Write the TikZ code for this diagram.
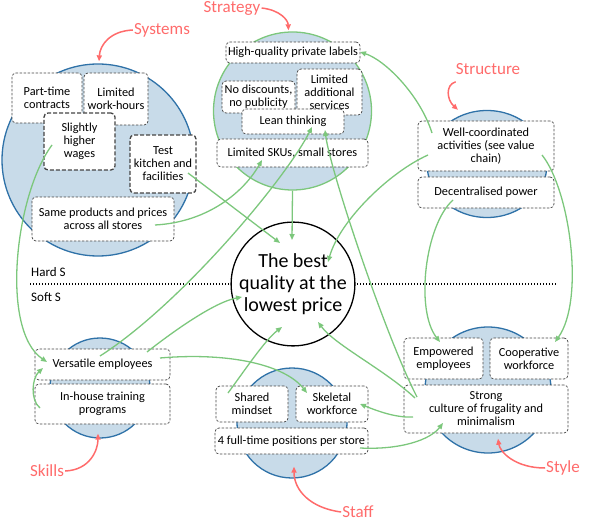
\documentclass[tikz,border=0pt]{standalone}
\usepackage{fontspec}
\setmainfont{Carlito}
\usetikzlibrary{arrows.meta,shapes.geometric}
\definecolor{cfill}{HTML}{C8DBE9}
\definecolor{cblue}{HTML}{2F72A8}
\definecolor{cgreen}{HTML}{7CC77C}
\definecolor{cred}{HTML}{FF6B6B}
\definecolor{cdash}{HTML}{444444}
\begin{document}
\begin{tikzpicture}[x=1pt,y=-1pt,
 box/.style={draw=cdash, fill=white, rounded corners=4pt, align=center, inner sep=1pt,
   font=\fontsize{12.3}{13}\selectfont, line width=0.7pt, dash pattern=on 2.5pt off 1.5pt},
 boldbox/.style={box, line width=1.3pt, dash pattern=on 4pt off 2pt},
 grp/.style={draw=cblue, fill=cfill, line width=1.3pt, inner sep=0pt},
 link/.style={draw=cgreen, line width=1.3pt, -{Triangle[length=6pt,width=5pt]}},
 lbl/.style={text=cred, font=\fontsize{17}{19}\selectfont, inner sep=1pt},
 lblarrow/.style={draw=cred, line width=1.5pt, -{Triangle[length=6pt,width=5pt]}},
 side/.style={anchor=west, font=\fontsize{13}{14}\selectfont, inner sep=1pt}
]
\useasboundingbox (0,0) rectangle (601,529);

% group circles
\node[grp, circle, minimum size=192pt] (sysc) at (98,160) {};
\node[grp, circle, draw=cgreen, minimum size=158pt] (stc) at (292.5,111) {};
\node[grp, ellipse, minimum width=120pt, minimum height=107pt] (strc) at (487,164) {};
\node[grp, circle, minimum size=100pt] (skc) at (100,388) {};
\node[grp, circle, minimum size=110pt] (stfc) at (292,423) {};
\node[grp, circle, minimum size=126pt] (styc) at (488,390) {};

% hard / soft divider
\draw[line width=1.2pt, dash pattern=on 1.3pt off 1.7pt] (30,284) -- (557,284);
\node[side] (hs) at (30,272) {Hard S};
\node[side] (ss) at (30,297) {Soft S};

% centre
\node[circle, draw=black, line width=1.3pt, fill=white, minimum size=122pt, inner sep=0pt,
  align=center, font=\fontsize{20}{22}\selectfont] (c) at (293,284) {The best\\quality at the\\lowest price};

% Systems
\node[box, minimum width=70pt, minimum height=50pt] (pt) at (47,98) {Part-time\\contracts};
\node[box, minimum width=64pt, minimum height=52pt] (lw) at (116,99) {Limited\\work-hours};
\node[boldbox, minimum width=71pt, minimum height=57pt] (shw) at (79.5,141.5) {Slightly\\higher\\wages};
\node[boldbox, minimum width=66pt, minimum height=58pt] (tk) at (163,164) {Test\\kitchen and\\facilities};
\node[box, minimum width=142pt, minimum height=44pt] (sp) at (103,219) {Same products and prices\\across all stores};

% Strategy
\node[box, minimum width=134pt, minimum height=21pt] (hq) at (293,52.5) {High-quality private labels};
\node[box, minimum width=73pt, minimum height=32pt] (nd) at (258.5,97) {No discounts,\\no publicity};
\node[box, minimum width=65pt, minimum height=46pt] (la) at (329.5,92) {Limited\\additional\\services};
\node[box, minimum width=102pt, minimum height=25pt] (lt) at (293,121.5) {Lean thinking};
\node[box, minimum width=151pt, minimum height=28pt] (sku) at (292.5,153) {Limited SKUs, small stores};

% Structure
\node[box, minimum width=136pt, minimum height=50pt] (wc) at (486,146) {Well-coordinated\\activities (see value\\chain)};
\node[box, minimum width=136pt, minimum height=31pt] (dp) at (486,192.5) {Decentralised power};

% Skills
\node[box, minimum width=135pt, minimum height=31pt] (ve) at (102.5,364.5) {Versatile employees};
\node[box, minimum width=135pt, minimum height=40pt] (it) at (102.5,404) {In-house training\\programs};

% Staff
\node[box, minimum width=72pt, minimum height=36pt] (sm) at (252,404) {Shared\\mindset};
\node[box, minimum width=72pt, minimum height=36pt] (sw) at (332,404) {Skeletal\\workforce};
\node[box, minimum width=153pt, minimum height=26pt] (ft) at (291.5,441) {4 full-time positions per store};

% Style
\node[box, minimum width=79pt, minimum height=41pt] (ee) at (443.5,358.5) {Empowered\\employees};
\node[box, minimum width=78pt, minimum height=41pt] (cw) at (529,358.5) {Cooperative\\workforce};
\node[box, minimum width=164pt, minimum height=48pt] (sc) at (486,409) {Strong\\culture of frugality and\\minimalism};

% green connectors
\draw[link] ([shift={(-27.5,3.5)}]shw.center) .. controls (15,195) and (0,330) .. ([shift={(-55.5,-2.5)}]ve.center);
\draw[link] ([shift={(25,9)}]tk.center) -- ([shift={(-13,-41)}]c.center);
\draw[link] ([shift={(52,6)}]sp.center) .. controls (210,222) and (245,190) .. ([shift={(-30.5,7)}]sku.center);
\draw[link] (stc.south) -- ([shift={(-1,-44)}]c.center);
\draw[link] ([shift={(-2.5,-8.5)}]ve.center) .. controls (180,305) and (285,180) .. ([shift={(19,5.5)}]lt.center);
\draw[link] ([shift={(44.5,-12.5)}]ve.center) .. controls (175,330) and (215,302) .. ([shift={(-51,13)}]c.center);
\draw[link] ([shift={(57.5,-6.5)}]ve.center) .. controls (230,352) and (285,365) .. ([shift={(-25,-11)}]sw.center);
\draw[link] ([shift={(-62.5,4)}]it.center) .. controls (30,400) and (32,378) .. ([shift={(-59.5,3.5)}]ve.center);
\draw[link] ([shift={(-24,-11)}]sm.center) .. controls (245,370) and (265,340) .. ([shift={(-11,43)}]c.center);
\draw[link] ([shift={(-73,8)}]sc.center) .. controls (395,418) and (375,410) .. ([shift={(28,0)}]sw.center);
\draw[link] ([shift={(68.5,7)}]ft.center) .. controls (400,450) and (430,440) .. ([shift={(-43,14)}]sc.center);
\draw[link] ([shift={(-71,-11)}]sc.center) .. controls (385,370) and (335,345) .. ([shift={(25,38)}]c.center);
\draw[link] ([shift={(-69,-12)}]sc.center) .. controls (385,335) and (330,170) .. ([shift={(32,8.5)}]lt.center);
\draw[link] ([shift={(-54,-13)}]wc.center) .. controls (420,95) and (385,60) .. ([shift={(67,-0.5)}]hq.center);
\draw[link] ([shift={(-58,9)}]wc.center) .. controls (390,172) and (340,220) .. ([shift={(35,-22)}]c.center);
\draw[link] ([shift={(-33,7.5)}]dp.center) .. controls (425,225) and (415,310) .. ([shift={(-3.5,-16.5)}]ee.center);
\draw[link] ([shift={(56,9)}]wc.center) .. controls (570,190) and (585,300) .. ([shift={(26,-16.5)}]cw.center);

% red labels
\node[lbl] (lsys) at (162,30) {Systems};
\node[lbl] (lstr) at (232,8) {Strategy};
\node[lbl] (lstc) at (488,69) {Structure};
\node[lbl] (lsk) at (47,471) {Skills};
\node[lbl] (lstf) at (358,512) {Staff};
\node[lbl] (lsty) at (563,468) {Style};

\draw[lblarrow] (lsys.west) .. controls (110,31) and (100,45) .. ([shift={(1,-2)}]sysc.north);
\draw[lblarrow] (lstr.east) .. controls (280,10) and (288,20) .. ([shift={(-4,-1)}]stc.north);
\draw[lblarrow] ([shift={(1,6)}]lstc.south west) .. controls (445,85) and (447,100) .. ([shift={(-29,0)}]strc.north);
\draw[lblarrow] (lsk.east) .. controls (90,470) and (98,450) .. ([shift={(-2,-5)}]skc.south);
\draw[lblarrow] (lstf.west) .. controls (310,508) and (294,490) .. ([shift={(2,-12)}]stfc.south);
\draw[lblarrow] (lsty.west) .. controls (515,468) and (500,452) .. ([shift={(10,-15)}]styc.south);
\end{tikzpicture}
\end{document}
